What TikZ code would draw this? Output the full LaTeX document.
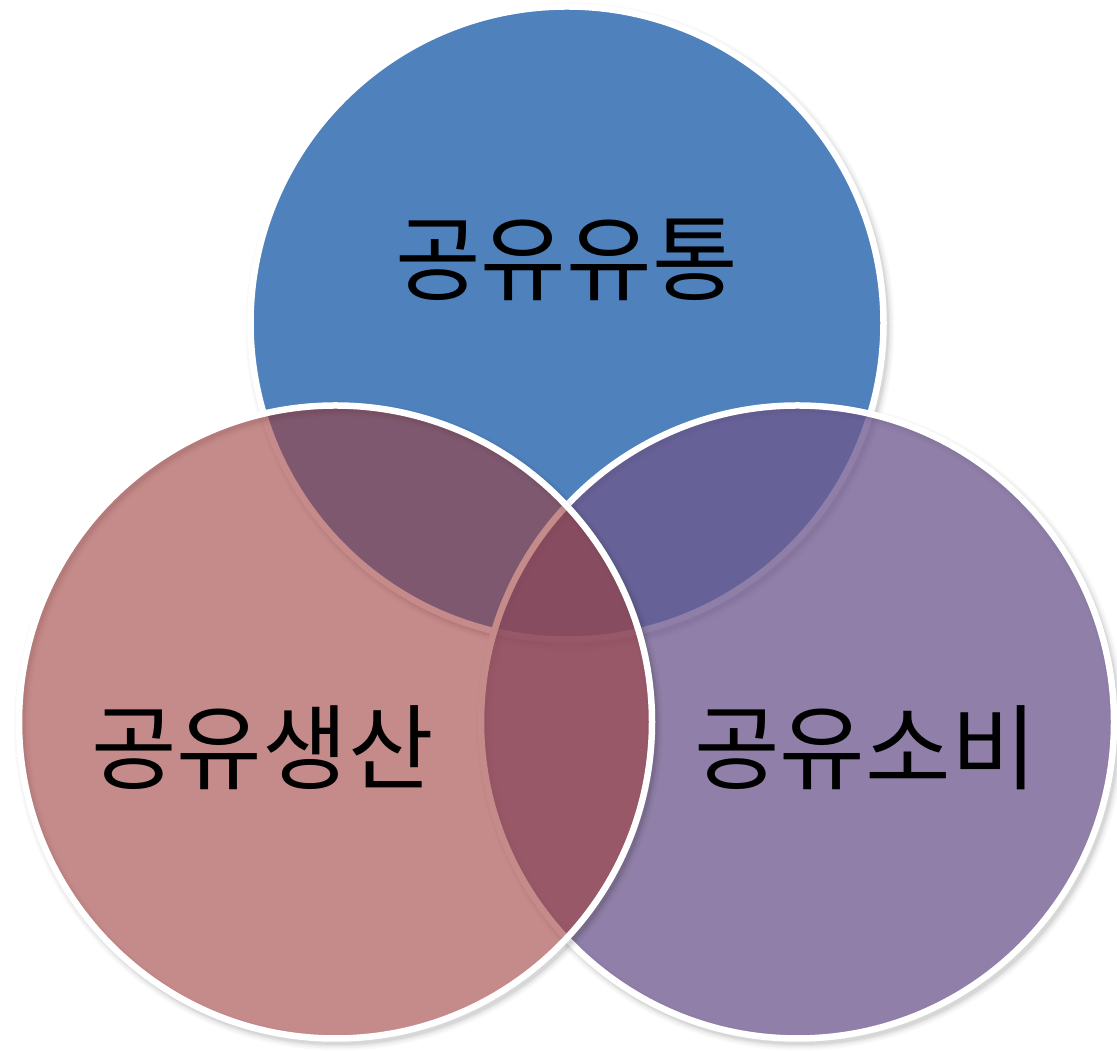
\documentclass[tikz,border=0pt]{standalone}
\usepackage{fontspec}
\newfontfamily\krfont{Noto Sans CJK KR}
\definecolor{topblue}{RGB}{79,129,189}
\definecolor{leftred}{RGB}{157,62,60}
\definecolor{rightpurple}{RGB}{110,89,142}
\tikzset{
  bordering/.style={draw=white, line width=6.5pt},
  labeltext/.style={font=\krfont\fontsize{93}{110}\selectfont, inner sep=0pt, text=black},
}
\newcommand\venndropshadow[3]{%
  \foreach \w/\o in {16/0.025,12/0.035,8/0.05,5/0.06}{%
    \draw[black, draw opacity=\o, line width=\w pt] (#1+3,#2-4) circle (#3pt);}}
\begin{document}
\begin{tikzpicture}[x=1pt,y=1pt]
\useasboundingbox (0,0) rectangle (1117,1051);
% top circle
\venndropshadow{567}{728}{316.5}
\fill[topblue] (567,728) circle (316.5pt);
\draw[bordering] (567,728) circle (316.5pt);
% right circle
\venndropshadow{797.5}{329}{316.5}
\fill[rightpurple, fill opacity=0.77] (797.5,329) circle (316.5pt);
\draw[bordering] (797.5,329) circle (316.5pt);
% left circle
\venndropshadow{335.5}{329}{316.5}
\fill[leftred, fill opacity=0.6] (335.5,329) circle (316.5pt);
\draw[bordering] (335.5,329) circle (316.5pt);
% labels
\node[labeltext] (top) at (566.5,791) {공유유통};
\node[labeltext] (left) at (262.5,303.5) {공유생산};
\node[labeltext] (right) at (865.5,303.5) {공유소비};
\end{tikzpicture}
\end{document}
